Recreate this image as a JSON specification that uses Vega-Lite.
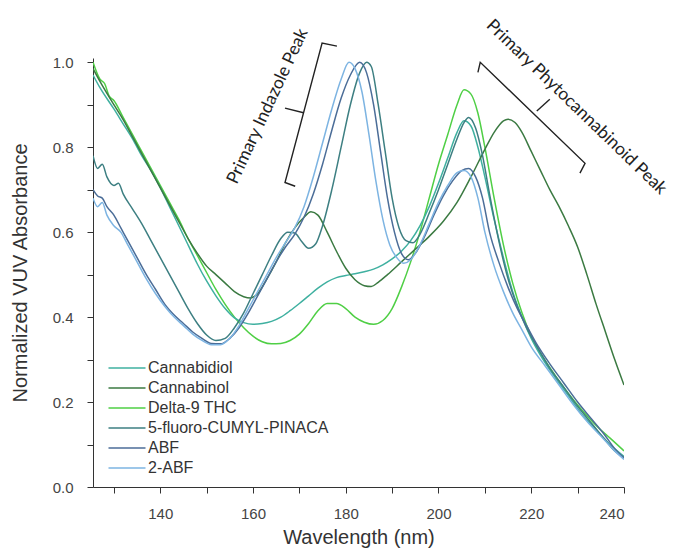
{
  "$schema": "https://vega.github.io/schema/vega-lite/v6.json",
  "width": 531,
  "height": 429,
  "autosize": {"type": "none"},
  "padding": {"left": 93, "top": 58, "right": 50, "bottom": 66},
  "background": "white",
  "config": {"view": {"stroke": null}, "font": "Liberation Sans"},
  "datasets": {
    "spectra": [
      {"compound": "Delta-9 THC", "nm": 125.5, "abs": 1.0},
      {"compound": "Delta-9 THC", "nm": 127, "abs": 0.96},
      {"compound": "Delta-9 THC", "nm": 128, "abs": 0.95},
      {"compound": "Delta-9 THC", "nm": 129, "abs": 0.92},
      {"compound": "Delta-9 THC", "nm": 130, "abs": 0.91},
      {"compound": "Delta-9 THC", "nm": 132, "abs": 0.87},
      {"compound": "Delta-9 THC", "nm": 134, "abs": 0.83},
      {"compound": "Delta-9 THC", "nm": 136, "abs": 0.79},
      {"compound": "Delta-9 THC", "nm": 138, "abs": 0.75},
      {"compound": "Delta-9 THC", "nm": 140, "abs": 0.71},
      {"compound": "Delta-9 THC", "nm": 142, "abs": 0.67},
      {"compound": "Delta-9 THC", "nm": 144, "abs": 0.63},
      {"compound": "Delta-9 THC", "nm": 146, "abs": 0.585},
      {"compound": "Delta-9 THC", "nm": 148, "abs": 0.545},
      {"compound": "Delta-9 THC", "nm": 150, "abs": 0.505},
      {"compound": "Delta-9 THC", "nm": 152, "abs": 0.465},
      {"compound": "Delta-9 THC", "nm": 154, "abs": 0.43},
      {"compound": "Delta-9 THC", "nm": 156, "abs": 0.4},
      {"compound": "Delta-9 THC", "nm": 158, "abs": 0.375},
      {"compound": "Delta-9 THC", "nm": 160, "abs": 0.355},
      {"compound": "Delta-9 THC", "nm": 162, "abs": 0.342},
      {"compound": "Delta-9 THC", "nm": 164, "abs": 0.337},
      {"compound": "Delta-9 THC", "nm": 166, "abs": 0.338},
      {"compound": "Delta-9 THC", "nm": 168, "abs": 0.345},
      {"compound": "Delta-9 THC", "nm": 170, "abs": 0.36},
      {"compound": "Delta-9 THC", "nm": 172, "abs": 0.385},
      {"compound": "Delta-9 THC", "nm": 174, "abs": 0.415},
      {"compound": "Delta-9 THC", "nm": 176, "abs": 0.432},
      {"compound": "Delta-9 THC", "nm": 178, "abs": 0.432},
      {"compound": "Delta-9 THC", "nm": 180, "abs": 0.42},
      {"compound": "Delta-9 THC", "nm": 182, "abs": 0.4},
      {"compound": "Delta-9 THC", "nm": 184, "abs": 0.388},
      {"compound": "Delta-9 THC", "nm": 186, "abs": 0.383},
      {"compound": "Delta-9 THC", "nm": 188, "abs": 0.392},
      {"compound": "Delta-9 THC", "nm": 190, "abs": 0.42},
      {"compound": "Delta-9 THC", "nm": 192, "abs": 0.47},
      {"compound": "Delta-9 THC", "nm": 194, "abs": 0.53},
      {"compound": "Delta-9 THC", "nm": 196, "abs": 0.6},
      {"compound": "Delta-9 THC", "nm": 198, "abs": 0.68},
      {"compound": "Delta-9 THC", "nm": 200, "abs": 0.76},
      {"compound": "Delta-9 THC", "nm": 202, "abs": 0.83},
      {"compound": "Delta-9 THC", "nm": 204, "abs": 0.9},
      {"compound": "Delta-9 THC", "nm": 205.5, "abs": 0.935},
      {"compound": "Delta-9 THC", "nm": 207, "abs": 0.925},
      {"compound": "Delta-9 THC", "nm": 208.5, "abs": 0.88},
      {"compound": "Delta-9 THC", "nm": 210, "abs": 0.8},
      {"compound": "Delta-9 THC", "nm": 212, "abs": 0.68},
      {"compound": "Delta-9 THC", "nm": 214, "abs": 0.57},
      {"compound": "Delta-9 THC", "nm": 216, "abs": 0.48},
      {"compound": "Delta-9 THC", "nm": 218, "abs": 0.41},
      {"compound": "Delta-9 THC", "nm": 220, "abs": 0.355},
      {"compound": "Delta-9 THC", "nm": 222, "abs": 0.315},
      {"compound": "Delta-9 THC", "nm": 225, "abs": 0.265},
      {"compound": "Delta-9 THC", "nm": 228, "abs": 0.22},
      {"compound": "Delta-9 THC", "nm": 231, "abs": 0.18},
      {"compound": "Delta-9 THC", "nm": 234, "abs": 0.145},
      {"compound": "Delta-9 THC", "nm": 237, "abs": 0.115},
      {"compound": "Delta-9 THC", "nm": 240, "abs": 0.085},

      {"compound": "Cannabidiol", "nm": 125.5, "abs": 0.97},
      {"compound": "Cannabidiol", "nm": 127, "abs": 0.94},
      {"compound": "Cannabidiol", "nm": 130, "abs": 0.89},
      {"compound": "Cannabidiol", "nm": 132, "abs": 0.855},
      {"compound": "Cannabidiol", "nm": 134, "abs": 0.82},
      {"compound": "Cannabidiol", "nm": 136, "abs": 0.78},
      {"compound": "Cannabidiol", "nm": 138, "abs": 0.745},
      {"compound": "Cannabidiol", "nm": 140, "abs": 0.705},
      {"compound": "Cannabidiol", "nm": 142, "abs": 0.66},
      {"compound": "Cannabidiol", "nm": 144, "abs": 0.615},
      {"compound": "Cannabidiol", "nm": 146, "abs": 0.57},
      {"compound": "Cannabidiol", "nm": 148, "abs": 0.525},
      {"compound": "Cannabidiol", "nm": 150, "abs": 0.485},
      {"compound": "Cannabidiol", "nm": 152, "abs": 0.45},
      {"compound": "Cannabidiol", "nm": 154, "abs": 0.42},
      {"compound": "Cannabidiol", "nm": 156, "abs": 0.398},
      {"compound": "Cannabidiol", "nm": 158, "abs": 0.387},
      {"compound": "Cannabidiol", "nm": 160, "abs": 0.383},
      {"compound": "Cannabidiol", "nm": 162, "abs": 0.385},
      {"compound": "Cannabidiol", "nm": 164, "abs": 0.39},
      {"compound": "Cannabidiol", "nm": 166, "abs": 0.4},
      {"compound": "Cannabidiol", "nm": 168, "abs": 0.415},
      {"compound": "Cannabidiol", "nm": 170, "abs": 0.432},
      {"compound": "Cannabidiol", "nm": 172, "abs": 0.45},
      {"compound": "Cannabidiol", "nm": 174, "abs": 0.468},
      {"compound": "Cannabidiol", "nm": 176, "abs": 0.483},
      {"compound": "Cannabidiol", "nm": 178, "abs": 0.493},
      {"compound": "Cannabidiol", "nm": 180, "abs": 0.498},
      {"compound": "Cannabidiol", "nm": 182, "abs": 0.502},
      {"compound": "Cannabidiol", "nm": 184, "abs": 0.507},
      {"compound": "Cannabidiol", "nm": 186, "abs": 0.513},
      {"compound": "Cannabidiol", "nm": 188, "abs": 0.523},
      {"compound": "Cannabidiol", "nm": 190, "abs": 0.537},
      {"compound": "Cannabidiol", "nm": 192, "abs": 0.555},
      {"compound": "Cannabidiol", "nm": 194, "abs": 0.58},
      {"compound": "Cannabidiol", "nm": 196, "abs": 0.615},
      {"compound": "Cannabidiol", "nm": 198, "abs": 0.66},
      {"compound": "Cannabidiol", "nm": 200, "abs": 0.715},
      {"compound": "Cannabidiol", "nm": 202, "abs": 0.775},
      {"compound": "Cannabidiol", "nm": 204, "abs": 0.835},
      {"compound": "Cannabidiol", "nm": 205.5, "abs": 0.862},
      {"compound": "Cannabidiol", "nm": 207, "abs": 0.85},
      {"compound": "Cannabidiol", "nm": 208.5, "abs": 0.8},
      {"compound": "Cannabidiol", "nm": 210, "abs": 0.73},
      {"compound": "Cannabidiol", "nm": 212, "abs": 0.63},
      {"compound": "Cannabidiol", "nm": 214, "abs": 0.54},
      {"compound": "Cannabidiol", "nm": 216, "abs": 0.46},
      {"compound": "Cannabidiol", "nm": 218, "abs": 0.4},
      {"compound": "Cannabidiol", "nm": 220, "abs": 0.35},
      {"compound": "Cannabidiol", "nm": 222, "abs": 0.31},
      {"compound": "Cannabidiol", "nm": 225, "abs": 0.26},
      {"compound": "Cannabidiol", "nm": 228, "abs": 0.215},
      {"compound": "Cannabidiol", "nm": 231, "abs": 0.17},
      {"compound": "Cannabidiol", "nm": 234, "abs": 0.135},
      {"compound": "Cannabidiol", "nm": 237, "abs": 0.1},
      {"compound": "Cannabidiol", "nm": 240, "abs": 0.072},

      {"compound": "Cannabinol", "nm": 125.5, "abs": 0.985},
      {"compound": "Cannabinol", "nm": 127, "abs": 0.955},
      {"compound": "Cannabinol", "nm": 130, "abs": 0.9},
      {"compound": "Cannabinol", "nm": 132, "abs": 0.865},
      {"compound": "Cannabinol", "nm": 134, "abs": 0.825},
      {"compound": "Cannabinol", "nm": 136, "abs": 0.785},
      {"compound": "Cannabinol", "nm": 138, "abs": 0.745},
      {"compound": "Cannabinol", "nm": 140, "abs": 0.705},
      {"compound": "Cannabinol", "nm": 142, "abs": 0.665},
      {"compound": "Cannabinol", "nm": 144, "abs": 0.625},
      {"compound": "Cannabinol", "nm": 146, "abs": 0.585},
      {"compound": "Cannabinol", "nm": 148, "abs": 0.55},
      {"compound": "Cannabinol", "nm": 150, "abs": 0.52},
      {"compound": "Cannabinol", "nm": 152, "abs": 0.5},
      {"compound": "Cannabinol", "nm": 154, "abs": 0.48},
      {"compound": "Cannabinol", "nm": 156, "abs": 0.46},
      {"compound": "Cannabinol", "nm": 158, "abs": 0.448},
      {"compound": "Cannabinol", "nm": 159.5, "abs": 0.445},
      {"compound": "Cannabinol", "nm": 161, "abs": 0.455},
      {"compound": "Cannabinol", "nm": 163, "abs": 0.49},
      {"compound": "Cannabinol", "nm": 165, "abs": 0.53},
      {"compound": "Cannabinol", "nm": 167, "abs": 0.575},
      {"compound": "Cannabinol", "nm": 169, "abs": 0.61},
      {"compound": "Cannabinol", "nm": 171, "abs": 0.635},
      {"compound": "Cannabinol", "nm": 172.5, "abs": 0.648},
      {"compound": "Cannabinol", "nm": 174, "abs": 0.64},
      {"compound": "Cannabinol", "nm": 176, "abs": 0.6},
      {"compound": "Cannabinol", "nm": 178, "abs": 0.555},
      {"compound": "Cannabinol", "nm": 180, "abs": 0.515},
      {"compound": "Cannabinol", "nm": 182, "abs": 0.488},
      {"compound": "Cannabinol", "nm": 184, "abs": 0.474},
      {"compound": "Cannabinol", "nm": 185.5, "abs": 0.472},
      {"compound": "Cannabinol", "nm": 187, "abs": 0.482},
      {"compound": "Cannabinol", "nm": 189, "abs": 0.5},
      {"compound": "Cannabinol", "nm": 192, "abs": 0.53},
      {"compound": "Cannabinol", "nm": 195, "abs": 0.56},
      {"compound": "Cannabinol", "nm": 198, "abs": 0.59},
      {"compound": "Cannabinol", "nm": 201, "abs": 0.625},
      {"compound": "Cannabinol", "nm": 204, "abs": 0.67},
      {"compound": "Cannabinol", "nm": 207, "abs": 0.73},
      {"compound": "Cannabinol", "nm": 210, "abs": 0.795},
      {"compound": "Cannabinol", "nm": 212, "abs": 0.835},
      {"compound": "Cannabinol", "nm": 214, "abs": 0.862},
      {"compound": "Cannabinol", "nm": 215, "abs": 0.866},
      {"compound": "Cannabinol", "nm": 216.5, "abs": 0.858},
      {"compound": "Cannabinol", "nm": 218, "abs": 0.835},
      {"compound": "Cannabinol", "nm": 220, "abs": 0.79},
      {"compound": "Cannabinol", "nm": 222, "abs": 0.745},
      {"compound": "Cannabinol", "nm": 224, "abs": 0.7},
      {"compound": "Cannabinol", "nm": 226, "abs": 0.66},
      {"compound": "Cannabinol", "nm": 228, "abs": 0.615},
      {"compound": "Cannabinol", "nm": 230, "abs": 0.565},
      {"compound": "Cannabinol", "nm": 232, "abs": 0.5},
      {"compound": "Cannabinol", "nm": 234, "abs": 0.43},
      {"compound": "Cannabinol", "nm": 236, "abs": 0.365},
      {"compound": "Cannabinol", "nm": 238, "abs": 0.3},
      {"compound": "Cannabinol", "nm": 240, "abs": 0.24},

      {"compound": "5-fluoro-CUMYL-PINACA", "nm": 125.5, "abs": 0.78},
      {"compound": "5-fluoro-CUMYL-PINACA", "nm": 126.5, "abs": 0.75},
      {"compound": "5-fluoro-CUMYL-PINACA", "nm": 127.5, "abs": 0.76},
      {"compound": "5-fluoro-CUMYL-PINACA", "nm": 128.5, "abs": 0.73},
      {"compound": "5-fluoro-CUMYL-PINACA", "nm": 130, "abs": 0.71},
      {"compound": "5-fluoro-CUMYL-PINACA", "nm": 131, "abs": 0.715},
      {"compound": "5-fluoro-CUMYL-PINACA", "nm": 132, "abs": 0.69},
      {"compound": "5-fluoro-CUMYL-PINACA", "nm": 134, "abs": 0.655},
      {"compound": "5-fluoro-CUMYL-PINACA", "nm": 136, "abs": 0.62},
      {"compound": "5-fluoro-CUMYL-PINACA", "nm": 138, "abs": 0.58},
      {"compound": "5-fluoro-CUMYL-PINACA", "nm": 140, "abs": 0.54},
      {"compound": "5-fluoro-CUMYL-PINACA", "nm": 142, "abs": 0.5},
      {"compound": "5-fluoro-CUMYL-PINACA", "nm": 144, "abs": 0.46},
      {"compound": "5-fluoro-CUMYL-PINACA", "nm": 146, "abs": 0.42},
      {"compound": "5-fluoro-CUMYL-PINACA", "nm": 148, "abs": 0.385},
      {"compound": "5-fluoro-CUMYL-PINACA", "nm": 150, "abs": 0.358},
      {"compound": "5-fluoro-CUMYL-PINACA", "nm": 152, "abs": 0.345},
      {"compound": "5-fluoro-CUMYL-PINACA", "nm": 154, "abs": 0.35},
      {"compound": "5-fluoro-CUMYL-PINACA", "nm": 156, "abs": 0.375},
      {"compound": "5-fluoro-CUMYL-PINACA", "nm": 158, "abs": 0.41},
      {"compound": "5-fluoro-CUMYL-PINACA", "nm": 160, "abs": 0.455},
      {"compound": "5-fluoro-CUMYL-PINACA", "nm": 162, "abs": 0.5},
      {"compound": "5-fluoro-CUMYL-PINACA", "nm": 164, "abs": 0.545},
      {"compound": "5-fluoro-CUMYL-PINACA", "nm": 166, "abs": 0.585},
      {"compound": "5-fluoro-CUMYL-PINACA", "nm": 167.5, "abs": 0.6},
      {"compound": "5-fluoro-CUMYL-PINACA", "nm": 169, "abs": 0.598},
      {"compound": "5-fluoro-CUMYL-PINACA", "nm": 170.5, "abs": 0.578},
      {"compound": "5-fluoro-CUMYL-PINACA", "nm": 172, "abs": 0.562},
      {"compound": "5-fluoro-CUMYL-PINACA", "nm": 173.5, "abs": 0.572},
      {"compound": "5-fluoro-CUMYL-PINACA", "nm": 175, "abs": 0.615},
      {"compound": "5-fluoro-CUMYL-PINACA", "nm": 177, "abs": 0.7},
      {"compound": "5-fluoro-CUMYL-PINACA", "nm": 179, "abs": 0.8},
      {"compound": "5-fluoro-CUMYL-PINACA", "nm": 181, "abs": 0.9},
      {"compound": "5-fluoro-CUMYL-PINACA", "nm": 183, "abs": 0.975},
      {"compound": "5-fluoro-CUMYL-PINACA", "nm": 184.5, "abs": 1.0},
      {"compound": "5-fluoro-CUMYL-PINACA", "nm": 185.5, "abs": 0.99},
      {"compound": "5-fluoro-CUMYL-PINACA", "nm": 187, "abs": 0.9},
      {"compound": "5-fluoro-CUMYL-PINACA", "nm": 188.5, "abs": 0.79},
      {"compound": "5-fluoro-CUMYL-PINACA", "nm": 190, "abs": 0.68},
      {"compound": "5-fluoro-CUMYL-PINACA", "nm": 191.5, "abs": 0.61},
      {"compound": "5-fluoro-CUMYL-PINACA", "nm": 193, "abs": 0.58},
      {"compound": "5-fluoro-CUMYL-PINACA", "nm": 194.5, "abs": 0.575},
      {"compound": "5-fluoro-CUMYL-PINACA", "nm": 196, "abs": 0.595},
      {"compound": "5-fluoro-CUMYL-PINACA", "nm": 198, "abs": 0.645},
      {"compound": "5-fluoro-CUMYL-PINACA", "nm": 200, "abs": 0.7},
      {"compound": "5-fluoro-CUMYL-PINACA", "nm": 202, "abs": 0.76},
      {"compound": "5-fluoro-CUMYL-PINACA", "nm": 204, "abs": 0.82},
      {"compound": "5-fluoro-CUMYL-PINACA", "nm": 205.5, "abs": 0.858},
      {"compound": "5-fluoro-CUMYL-PINACA", "nm": 206.5, "abs": 0.87},
      {"compound": "5-fluoro-CUMYL-PINACA", "nm": 208, "abs": 0.845},
      {"compound": "5-fluoro-CUMYL-PINACA", "nm": 209.5, "abs": 0.78},
      {"compound": "5-fluoro-CUMYL-PINACA", "nm": 211, "abs": 0.69},
      {"compound": "5-fluoro-CUMYL-PINACA", "nm": 213, "abs": 0.58},
      {"compound": "5-fluoro-CUMYL-PINACA", "nm": 215, "abs": 0.49},
      {"compound": "5-fluoro-CUMYL-PINACA", "nm": 217, "abs": 0.425},
      {"compound": "5-fluoro-CUMYL-PINACA", "nm": 219, "abs": 0.375},
      {"compound": "5-fluoro-CUMYL-PINACA", "nm": 221, "abs": 0.335},
      {"compound": "5-fluoro-CUMYL-PINACA", "nm": 224, "abs": 0.28},
      {"compound": "5-fluoro-CUMYL-PINACA", "nm": 227, "abs": 0.235},
      {"compound": "5-fluoro-CUMYL-PINACA", "nm": 230, "abs": 0.19},
      {"compound": "5-fluoro-CUMYL-PINACA", "nm": 233, "abs": 0.15},
      {"compound": "5-fluoro-CUMYL-PINACA", "nm": 236, "abs": 0.11},
      {"compound": "5-fluoro-CUMYL-PINACA", "nm": 238, "abs": 0.085},
      {"compound": "5-fluoro-CUMYL-PINACA", "nm": 240, "abs": 0.07},

      {"compound": "ABF", "nm": 125.5, "abs": 0.7},
      {"compound": "ABF", "nm": 126.5, "abs": 0.685},
      {"compound": "ABF", "nm": 127.5, "abs": 0.68},
      {"compound": "ABF", "nm": 128.5, "abs": 0.66},
      {"compound": "ABF", "nm": 130, "abs": 0.64},
      {"compound": "ABF", "nm": 131.5, "abs": 0.61},
      {"compound": "ABF", "nm": 133, "abs": 0.58},
      {"compound": "ABF", "nm": 135, "abs": 0.54},
      {"compound": "ABF", "nm": 137, "abs": 0.5},
      {"compound": "ABF", "nm": 139, "abs": 0.465},
      {"compound": "ABF", "nm": 141, "abs": 0.43},
      {"compound": "ABF", "nm": 143, "abs": 0.405},
      {"compound": "ABF", "nm": 145, "abs": 0.385},
      {"compound": "ABF", "nm": 147, "abs": 0.365},
      {"compound": "ABF", "nm": 149, "abs": 0.35},
      {"compound": "ABF", "nm": 151, "abs": 0.338},
      {"compound": "ABF", "nm": 153, "abs": 0.337},
      {"compound": "ABF", "nm": 155, "abs": 0.35},
      {"compound": "ABF", "nm": 157, "abs": 0.375},
      {"compound": "ABF", "nm": 159, "abs": 0.41},
      {"compound": "ABF", "nm": 161, "abs": 0.45},
      {"compound": "ABF", "nm": 163, "abs": 0.49},
      {"compound": "ABF", "nm": 165, "abs": 0.53},
      {"compound": "ABF", "nm": 167, "abs": 0.565},
      {"compound": "ABF", "nm": 169, "abs": 0.595},
      {"compound": "ABF", "nm": 171, "abs": 0.635},
      {"compound": "ABF", "nm": 173, "abs": 0.69},
      {"compound": "ABF", "nm": 175, "abs": 0.76},
      {"compound": "ABF", "nm": 177, "abs": 0.84},
      {"compound": "ABF", "nm": 179, "abs": 0.915},
      {"compound": "ABF", "nm": 181, "abs": 0.97},
      {"compound": "ABF", "nm": 183, "abs": 1.0},
      {"compound": "ABF", "nm": 184.5, "abs": 0.975},
      {"compound": "ABF", "nm": 186, "abs": 0.9},
      {"compound": "ABF", "nm": 187.5, "abs": 0.79},
      {"compound": "ABF", "nm": 189, "abs": 0.68},
      {"compound": "ABF", "nm": 190.5, "abs": 0.6},
      {"compound": "ABF", "nm": 192, "abs": 0.55},
      {"compound": "ABF", "nm": 193.5, "abs": 0.535},
      {"compound": "ABF", "nm": 195, "abs": 0.55},
      {"compound": "ABF", "nm": 197, "abs": 0.59},
      {"compound": "ABF", "nm": 199, "abs": 0.64},
      {"compound": "ABF", "nm": 201, "abs": 0.685},
      {"compound": "ABF", "nm": 203, "abs": 0.72},
      {"compound": "ABF", "nm": 205, "abs": 0.745},
      {"compound": "ABF", "nm": 206.5, "abs": 0.75},
      {"compound": "ABF", "nm": 208, "abs": 0.73},
      {"compound": "ABF", "nm": 209.5, "abs": 0.68},
      {"compound": "ABF", "nm": 211, "abs": 0.6},
      {"compound": "ABF", "nm": 213, "abs": 0.53},
      {"compound": "ABF", "nm": 215, "abs": 0.47},
      {"compound": "ABF", "nm": 217, "abs": 0.42},
      {"compound": "ABF", "nm": 219, "abs": 0.38},
      {"compound": "ABF", "nm": 221, "abs": 0.34},
      {"compound": "ABF", "nm": 224, "abs": 0.29},
      {"compound": "ABF", "nm": 227, "abs": 0.245},
      {"compound": "ABF", "nm": 230, "abs": 0.2},
      {"compound": "ABF", "nm": 233, "abs": 0.16},
      {"compound": "ABF", "nm": 236, "abs": 0.12},
      {"compound": "ABF", "nm": 238, "abs": 0.09},
      {"compound": "ABF", "nm": 240, "abs": 0.068},

      {"compound": "2-ABF", "nm": 125.5, "abs": 0.68},
      {"compound": "2-ABF", "nm": 126.5, "abs": 0.66},
      {"compound": "2-ABF", "nm": 127.5, "abs": 0.67},
      {"compound": "2-ABF", "nm": 128.5, "abs": 0.64},
      {"compound": "2-ABF", "nm": 130, "abs": 0.615},
      {"compound": "2-ABF", "nm": 131.5, "abs": 0.6},
      {"compound": "2-ABF", "nm": 133, "abs": 0.57},
      {"compound": "2-ABF", "nm": 135, "abs": 0.53},
      {"compound": "2-ABF", "nm": 137, "abs": 0.49},
      {"compound": "2-ABF", "nm": 139, "abs": 0.455},
      {"compound": "2-ABF", "nm": 141, "abs": 0.425},
      {"compound": "2-ABF", "nm": 143, "abs": 0.4},
      {"compound": "2-ABF", "nm": 145, "abs": 0.38},
      {"compound": "2-ABF", "nm": 147, "abs": 0.36},
      {"compound": "2-ABF", "nm": 149, "abs": 0.345},
      {"compound": "2-ABF", "nm": 151, "abs": 0.335},
      {"compound": "2-ABF", "nm": 153, "abs": 0.335},
      {"compound": "2-ABF", "nm": 155, "abs": 0.35},
      {"compound": "2-ABF", "nm": 157, "abs": 0.38},
      {"compound": "2-ABF", "nm": 159, "abs": 0.42},
      {"compound": "2-ABF", "nm": 161, "abs": 0.46},
      {"compound": "2-ABF", "nm": 163, "abs": 0.5},
      {"compound": "2-ABF", "nm": 165, "abs": 0.54},
      {"compound": "2-ABF", "nm": 167, "abs": 0.575},
      {"compound": "2-ABF", "nm": 169, "abs": 0.61},
      {"compound": "2-ABF", "nm": 171, "abs": 0.66},
      {"compound": "2-ABF", "nm": 173, "abs": 0.73},
      {"compound": "2-ABF", "nm": 175, "abs": 0.81},
      {"compound": "2-ABF", "nm": 177, "abs": 0.89},
      {"compound": "2-ABF", "nm": 179, "abs": 0.96},
      {"compound": "2-ABF", "nm": 180.7, "abs": 1.0},
      {"compound": "2-ABF", "nm": 182, "abs": 0.985},
      {"compound": "2-ABF", "nm": 183.5, "abs": 0.93},
      {"compound": "2-ABF", "nm": 185, "abs": 0.83},
      {"compound": "2-ABF", "nm": 186.5, "abs": 0.72},
      {"compound": "2-ABF", "nm": 188, "abs": 0.63},
      {"compound": "2-ABF", "nm": 189.5, "abs": 0.57},
      {"compound": "2-ABF", "nm": 191, "abs": 0.54},
      {"compound": "2-ABF", "nm": 192.5, "abs": 0.527},
      {"compound": "2-ABF", "nm": 194, "abs": 0.535},
      {"compound": "2-ABF", "nm": 196, "abs": 0.57},
      {"compound": "2-ABF", "nm": 198, "abs": 0.62},
      {"compound": "2-ABF", "nm": 200, "abs": 0.67},
      {"compound": "2-ABF", "nm": 202, "abs": 0.71},
      {"compound": "2-ABF", "nm": 204, "abs": 0.74},
      {"compound": "2-ABF", "nm": 205.5, "abs": 0.745},
      {"compound": "2-ABF", "nm": 207, "abs": 0.73},
      {"compound": "2-ABF", "nm": 208.5, "abs": 0.68},
      {"compound": "2-ABF", "nm": 210, "abs": 0.6},
      {"compound": "2-ABF", "nm": 212, "abs": 0.52},
      {"compound": "2-ABF", "nm": 214, "abs": 0.46},
      {"compound": "2-ABF", "nm": 216, "abs": 0.41},
      {"compound": "2-ABF", "nm": 218, "abs": 0.37},
      {"compound": "2-ABF", "nm": 220, "abs": 0.33},
      {"compound": "2-ABF", "nm": 223, "abs": 0.285},
      {"compound": "2-ABF", "nm": 226, "abs": 0.24},
      {"compound": "2-ABF", "nm": 229, "abs": 0.195},
      {"compound": "2-ABF", "nm": 232, "abs": 0.155},
      {"compound": "2-ABF", "nm": 235, "abs": 0.12},
      {"compound": "2-ABF", "nm": 238, "abs": 0.085},
      {"compound": "2-ABF", "nm": 240, "abs": 0.065}
    ],
    "brackets": [
      {"part": "indazole", "i": 1, "nm": 178.1, "abs": 1.038},
      {"part": "indazole", "i": 2, "nm": 174.9, "abs": 1.045},
      {"part": "indazole", "i": 3, "nm": 166.9, "abs": 0.717},
      {"part": "indazole", "i": 4, "nm": 169.1, "abs": 0.708},
      {"part": "indazole tick", "i": 1, "nm": 170.9, "abs": 0.881},
      {"part": "indazole tick", "i": 2, "nm": 166.9, "abs": 0.892},
      {"part": "phyto", "i": 1, "nm": 208.5, "abs": 0.976},
      {"part": "phyto", "i": 2, "nm": 209.0, "abs": 1.0},
      {"part": "phyto", "i": 3, "nm": 231.6, "abs": 0.762},
      {"part": "phyto", "i": 4, "nm": 230.5, "abs": 0.739},
      {"part": "phyto tick", "i": 1, "nm": 221.2, "abs": 0.885},
      {"part": "phyto tick", "i": 2, "nm": 224.0, "abs": 0.913}
    ]
  },
  "layer": [
    {
      "data": {"name": "spectra"},
      "mark": {"type": "line", "interpolate": "monotone", "clip": true},
      "encoding": {
        "x": {
          "field": "nm", "type": "quantitative",
          "scale": {"domain": [125.5, 240], "nice": false, "zero": false},
          "axis": {
            "title": "Wavelength (nm)",
            "values": [130, 140, 150, 160, 170, 180, 190, 200, 210, 220, 230, 240],
            "labelExpr": "datum.value % 20 == 0 ? datum.label : ''",
            "grid": false, "domainColor": "#333", "tickColor": "#333", "tickSize": 6,
            "labelColor": "#444", "labelFontSize": 15, "labelPadding": 13,
            "titleFontSize": 20, "titleFontWeight": "normal", "titleColor": "#333", "titlePadding": 6
          }
        },
        "y": {
          "field": "abs", "type": "quantitative",
          "scale": {"domain": [0, 1.01], "nice": false},
          "axis": {
            "title": "Normalized VUV Absorbance",
            "values": [0, 0.1, 0.2, 0.3, 0.4, 0.5, 0.6, 0.7, 0.8, 0.9, 1.0],
            "labelExpr": "round(datum.value * 10) % 2 == 0 ? format(datum.value, '.1f') : ''",
            "grid": false, "domainColor": "#333", "tickColor": "#333", "tickSize": 6,
            "labelColor": "#444", "labelFontSize": 15, "labelPadding": 14,
            "titleFontSize": 20, "titleFontWeight": "normal", "titleColor": "#333", "titlePadding": 22
          }
        },
        "color": {
          "field": "compound", "type": "nominal",
          "scale": {
            "domain": ["Cannabidiol", "Cannabinol", "Delta-9 THC", "5-fluoro-CUMYL-PINACA", "ABF", "2-ABF"],
            "range": ["#3fb0a0", "#3b7a42", "#4fcf45", "#3d7f82", "#4b6d98", "#7db4e2"]
          },
          "legend": {
            "title": null, "orient": "none", "legendX": 26, "legendY": 302,
            "symbolType": "M-3.7,0H3.7", "symbolSize": 100, "symbolStrokeWidth": 2,
            "labelFontSize": 16, "labelColor": "#333", "labelOffset": 13, "labelLimit": 400, "rowPadding": 4
          }
        },
        "strokeWidth": {
          "field": "compound", "type": "nominal",
          "scale": {
            "domain": ["Cannabidiol", "Cannabinol", "Delta-9 THC", "5-fluoro-CUMYL-PINACA", "ABF", "2-ABF"],
            "range": [1.5, 1.5, 2.6, 1.5, 1.5, 1.5]
          },
          "legend": null
        }
      }
    },
    {
      "data": {"name": "brackets"},
      "mark": {"type": "line", "color": "#222", "strokeWidth": 1.4, "clip": false},
      "encoding": {
        "x": {"field": "nm", "type": "quantitative"},
        "y": {"field": "abs", "type": "quantitative"},
        "detail": {"field": "part", "type": "nominal"},
        "order": {"field": "i", "type": "quantitative"}
      }
    },
    {
      "data": {"values": [{"nm": 163.2, "abs": 0.896, "label": "Primary Indazole Peak"}]},
      "mark": {"type": "text", "angle": -65, "align": "center", "baseline": "middle", "font": "Lato", "fontSize": 17.5, "color": "#222", "clip": false},
      "encoding": {
        "x": {"field": "nm", "type": "quantitative"},
        "y": {"field": "abs", "type": "quantitative"},
        "text": {"field": "label"}
      }
    },
    {
      "data": {"values": [{"nm": 229.7, "abs": 0.894, "label": "Primary Phytocannabinoid Peak"}]},
      "mark": {"type": "text", "angle": 44, "align": "center", "baseline": "middle", "font": "Lato", "fontSize": 17.5, "color": "#222", "clip": false},
      "encoding": {
        "x": {"field": "nm", "type": "quantitative"},
        "y": {"field": "abs", "type": "quantitative"},
        "text": {"field": "label"}
      }
    }
  ]
}
